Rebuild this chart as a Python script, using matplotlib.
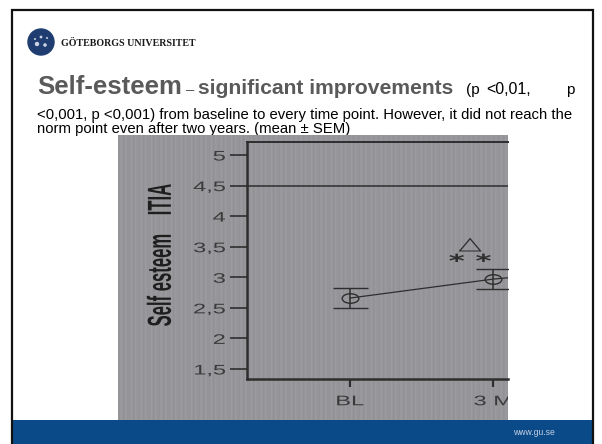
import numpy as np
import matplotlib.pyplot as plt
from matplotlib.patches import Rectangle, Circle
from matplotlib.path import Path
from matplotlib.patheffects import AbstractPathEffect
from matplotlib.transforms import Affine2D, Bbox, TransformedBbox

# Self-esteem (ITIA), mean and SEM per time point
timepoints = ['BL', '3 M', '6 M']
mean = [2.66, 2.97, 3.18]
sem = [0.16, 0.165, 0.16]
norm_value = 4.5
yticks = [1.5, 2, 2.5, 3, 3.5, 4, 4.5, 5]
ytick_labels = ['1,5', '2', '2,5', '3', '3,5', '4', '4,5', '5']

W, H = 602, 444
fig = plt.figure(figsize=(W / 100, H / 100), dpi=100)


def frac(x0, y0, x1, y1):
    # pixel box (top-left origin) -> figure fraction rect
    return [x0 / W, 1 - y1 / H, (x1 - x0) / W, (y1 - y0) / H]


class Stretch(AbstractPathEffect):
    """Scale the drawn glyphs about a point of their own bounding box."""

    def __init__(self, sx=1.0, sy=1.0, anchor=(0.5, 0.5)):
        super().__init__()
        self.sx, self.sy, self.anchor = sx, sy, anchor

    def draw_path(self, renderer, gc, tpath, affine, rgbFace=None):
        ext = tpath.get_extents(affine)
        cx = ext.x0 + self.anchor[0] * ext.width
        cy = ext.y0 + self.anchor[1] * ext.height
        t = affine + Affine2D().translate(-cx, -cy).scale(self.sx, self.sy).translate(cx, cy)
        renderer.draw_path(gc, tpath, t, rgbFace)


# slide layer, pixel coordinates
bg = fig.add_axes([0, 0, 1, 1])
bg.set_xlim(0, W)
bg.set_ylim(H, 0)
bg.axis('off')

bg.add_patch(Rectangle((12, 420), 581, 24, color='#0b4a88', lw=0))
bg.plot([12, 12, 593, 593], [H, 10, 10, H], color='#111111', lw=1.6,
        solid_joinstyle='miter')

# logo
bg.add_patch(Circle((41, 42), 13, color='#1f3d70'))
for dx, dy, r in [(-4, 2, 2.2), (4, 3, 1.8), (0, -5, 1.4), (6, -4, 1.0), (-6, -3, 1.0)]:
    bg.add_patch(Circle((41 + dx, 42 + dy), r, color='#c9d3e3', lw=0))
bg.text(61, 43, 'GÖTEBORGS UNIVERSITET', family='Liberation Serif',
        weight='bold', fontsize=7.2, color='#1a1a1a', va='center')

sans = ['Liberation Sans', 'DejaVu Sans']
grey = '#5a5a5a'
bg.text(37, 94, 'Self-esteem', family=sans, weight='bold', fontsize=18.5,
        color=grey, va='baseline')
bg.text(186, 94, '–', family=sans, fontsize=10.7, color=grey, va='baseline')
bg.text(198, 94, 'significant improvements', family=sans, weight='bold',
        fontsize=15.2, color=grey, va='baseline')
bg.text(466, 94, '(p', family=sans, fontsize=11, color='black', va='baseline')
bg.text(486, 94, '<0,01,', family=sans, fontsize=11.5, color='black', va='baseline')
bg.text(574, 94, 'p', family=sans, fontsize=11, color='black',
        va='baseline', ha='right')
bg.text(37, 118.5, '<0,001, p <0,001) from baseline to every time point. '
        'However, it did not reach the', family=sans, fontsize=10.7,
        color='black', va='baseline')
bg.text(37, 133, 'norm point even after two years. (mean ± SEM)', family=sans,
        fontsize=10.7, color='black', va='baseline')
bg.text(534, 432, 'www.gu.se', family=sans, fontsize=6.2, color='#c5d2e6',
        ha='center', va='center')

# grey backdrop with faint vertical striping
img = fig.add_axes(frac(118, 135, 508, 420))
img.axis('off')
row = np.array([150, 147, 152, 155, 151, 146, 149, 154, 153, 148]) / 255
cols = np.tile(row, 39)
tex = np.stack([cols, cols, cols + 4 / 255], axis=-1)[None, :, :]
img.imshow(np.clip(tex, 0, 1), aspect='auto', interpolation='nearest')

grey_box = TransformedBbox(
    Bbox.from_extents(118 / W, 1 - 420 / H, 508 / W, 1 - 135 / H),
    fig.transFigure)

# chart
ink = '#2e2e2e'
wide = 1.7
ax = fig.add_axes(frac(247, 142, 508, 379))
ax.set_facecolor('none')
x = np.arange(len(timepoints))
ellipse = Path.unit_circle().transformed(Affine2D().scale(1.75, 1.0))
ax.errorbar(x, mean, yerr=sem, color=ink, lw=0.9, marker=ellipse, ms=12,
            mfc='none', mec=ink, mew=1.0, capsize=12.6, elinewidth=1.1,
            capthick=1.1)
ax.axhline(norm_value, color=ink, lw=1.1)

ax.text(0.84, 3.54, '△', ha='center', va='center', fontsize=13, color=ink,
        path_effects=[Stretch(sx=wide)])
ax.text(0.84, 3.25, '* *', ha='center', va='center', fontsize=13,
        weight='bold', color=ink, path_effects=[Stretch(sx=wide)])

ax.set_yticks(yticks)
ax.set_yticklabels(ytick_labels)
ax.set_xticks(x)
ax.set_xticklabels(timepoints)
ax.set_xlim(-0.72, 1.105)
ax.set_ylim(1.336, 5.213)

ax.spines['right'].set_visible(False)
ax.spines['left'].set_linewidth(1.8)
ax.spines['bottom'].set_linewidth(1.8)
ax.spines['top'].set_linewidth(1.4)
for s in ax.spines.values():
    s.set_color(ink)
ax.tick_params(axis='y', length=12.5, width=1.2, pad=3, labelsize=10,
               color=ink, labelcolor='#3a3a3a')
ax.tick_params(axis='x', length=6, width=1.6, pad=5, labelsize=10,
               color=ink, labelcolor='#3a3a3a')
for lab in ax.get_yticklabels():
    lab.set_family(sans)
    lab.set_path_effects([Stretch(sx=wide, anchor=(1.0, 0.5))])
for lab in ax.get_xticklabels():
    lab.set_family(sans)
    lab.set_clip_box(grey_box)
    lab.set_path_effects([Stretch(sx=wide, anchor=(0.5, 1.0))])

ax.set_ylabel('Self esteem    ITIA', family=sans, weight='bold', fontsize=24,
              color='#1e1e1e', path_effects=[Stretch(sy=0.5)])
ax.yaxis.set_label_coords(-0.265, 0.523)

fig.savefig('out.png', dpi=100)
